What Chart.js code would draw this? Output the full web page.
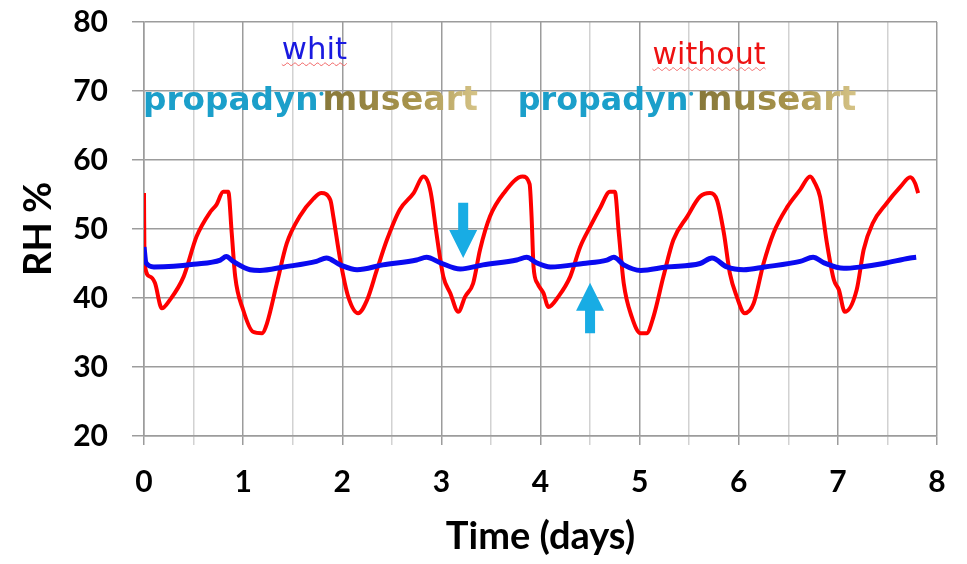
<!DOCTYPE html>
<html>
<head>
<meta charset="utf-8">
<script src="https://cdn.jsdelivr.net/npm/chart.js@4.4.0/dist/chart.umd.min.js"></script>
<style>
  body { margin: 0; background: #fff; }
  #wrap { width: 967px; height: 564px; }
</style>
</head>
<body>
<div id="wrap"><canvas id="graficoRH" width="967" height="564"></canvas></div>
<script>
// RH with / without the Propadyn Museart
const redDays = [0.00, 0.005, 0.06, 0.11, 0.18, 0.26, 0.40, 0.53, 0.67, 0.73, 0.80, 0.85, 0.885, 0.92,
  1.00, 1.10, 1.19, 1.24, 1.34, 1.44, 1.57, 1.71, 1.79, 1.88, 1.91, 1.98,
  2.06, 2.16, 2.25, 2.35, 2.45, 2.58, 2.72, 2.82, 2.87, 2.90, 2.95,
  3.02, 3.09, 3.17, 3.24, 3.32, 3.39, 3.49, 3.63, 3.82, 3.89, 3.91, 3.93, 3.97,
  4.03, 4.08, 4.18, 4.30, 4.40, 4.50, 4.60, 4.70, 4.75, 4.79, 4.84, 4.92,
  5.01, 5.07, 5.14, 5.24, 5.34, 5.48, 5.61, 5.71, 5.78, 5.85, 5.91, 5.98,
  6.06, 6.15, 6.25, 6.35, 6.49, 6.62, 6.72, 6.77, 6.82, 6.89, 6.96,
  7.01, 7.07, 7.19, 7.26, 7.35, 7.49, 7.63, 7.73, 7.78, 7.81];
const redRH = [55.2, 45.1, 43.1, 42.2, 38.5, 39.7, 43.1, 48.9, 52.5, 53.5, 55.4, 55.4, 49.4, 43.1,
  38.3, 35.1, 34.9, 36.3, 42.1, 47.9, 51.8, 54.4, 55.2, 54.2, 51.8, 45.5,
  40.2, 37.8, 39.7, 44.1, 48.4, 52.8, 55.2, 57.6, 56.6, 54.7, 49.4,
  43.1, 40.7, 38.0, 40.2, 42.1, 47.0, 51.8, 55.2, 57.6, 56.5, 51.8, 44.5, 42.1,
  40.7, 38.7, 40.2, 43.1, 47.4, 50.3, 53.0, 55.4, 55.4, 49.4, 42.1, 37.3,
  34.9, 34.9, 37.3, 43.1, 48.4, 51.8, 54.7, 55.2, 54.2, 49.4, 43.6, 40.2,
  37.8, 39.2, 45.0, 49.4, 53.2, 55.7, 57.6, 56.6, 54.7, 47.9, 42.6,
  41.2, 38.0, 41.2, 47.0, 50.8, 53.7, 56.1, 57.5, 56.6, 55.2];

const blueDays = [0.00, 0.02, 0.10, 0.30, 0.50, 0.77, 0.83, 0.90, 1.07, 1.17, 1.41, 1.74, 1.84, 1.98,
  2.15, 2.41, 2.75, 2.85, 2.99, 3.19, 3.42, 3.76, 3.86, 3.96, 4.10, 4.43, 4.67, 4.74, 4.84,
  5.01, 5.27, 5.61, 5.73, 5.88, 6.05, 6.26, 6.62, 6.75, 6.86, 7.06, 7.23, 7.46, 7.73, 7.79];
const blueRH = [47.4, 45.1, 44.5, 44.6, 44.9, 45.5, 46.0, 45.3, 44.1, 44.0, 44.5, 45.3, 45.8, 44.8,
  44.1, 44.8, 45.5, 45.9, 45.1, 44.2, 44.8, 45.5, 45.9, 45.1, 44.5, 45.0, 45.5, 45.9, 44.8,
  44.0, 44.5, 45.0, 45.8, 44.5, 44.1, 44.5, 45.3, 45.9, 45.1, 44.3, 44.5, 45.0, 45.8, 45.9];

const xTicks = [0, 1, 2, 3, 4, 5, 6, 7, 8];
const yTicks = [20, 30, 40, 50, 60, 70, 80];

// notes on the plot: [text, fromDay, toDay, RH at baseline, colour]
const handNotes = [["whit", 1.39, 2.05, 74.6, "#1a1ae0"], ["without", 5.13, 6.27, 73.9, "#ee1111"]];
const logoDays = [[-0.01, 1.76, 1.80, 3.37], [3.77, 5.49, 5.58, 7.19]];
const logoRH = 67.3;
const arrows = [{ day: 3.22, from: 53.8, to: 45.8 }, { day: 4.50, from: 34.9, to: 42.2 }];

const toXY = (xs, ys) => xs.map((d, i) => ({ x: d, y: ys[i] }));

function fitText(ctx, text, x0, x1, yb, family, weight) {
  ctx.font = weight + " 40px " + family;
  const w = ctx.measureText(text).width;
  const size = 40 * (x1 - x0) / w;
  ctx.font = weight + " " + size.toFixed(1) + "px " + family;
  ctx.fillText(text, x0, yb);
}

const notesPlugin = {
  id: "notes",
  afterDatasetsDraw(chart) {
    const { ctx, scales: { x, y } } = chart;
    ctx.save();
    ctx.textBaseline = "alphabetic";
    ctx.textAlign = "left";

    // handwritten labels with the red squiggle below
    handNotes.forEach(([txt, d0, d1, v, col]) => {
      const x0 = x.getPixelForValue(d0), x1 = x.getPixelForValue(d1), yb = y.getPixelForValue(v);
      ctx.fillStyle = col;
      fitText(ctx, txt, x0, x1, yb, "'DejaVu Sans'", "normal");
      ctx.strokeStyle = "#f06060";
      ctx.lineWidth = 1;
      ctx.beginPath();
      for (let px = x0; px <= x1; px += 1) {
        const py = yb + 5 + Math.sin((px - x0) / 1.2) * 1.3;
        px === x0 ? ctx.moveTo(px, py) : ctx.lineTo(px, py);
      }
      ctx.stroke();
    });

    // logos
    logoDays.forEach(([a0, a1, b0, b1]) => {
      const yb = y.getPixelForValue(logoRH);
      ctx.fillStyle = "#1b9fca";
      const pEnd = x.getPixelForValue(a1);
      fitText(ctx, "propadyn", x.getPixelForValue(a0), pEnd, yb, "'DejaVu Sans'", "bold");
      ctx.beginPath();
      ctx.arc(pEnd + 3, yb - 16, 2, 0, Math.PI * 2);
      ctx.fill();
      const gx0 = x.getPixelForValue(b0), gx1 = x.getPixelForValue(b1);
      const g = ctx.createLinearGradient(gx0, 0, gx1, 0);
      g.addColorStop(0, "#87783a");
      g.addColorStop(0.6, "#a8944c");
      g.addColorStop(1, "#d6c488");
      ctx.fillStyle = g;
      fitText(ctx, "museart", gx0, gx1, yb, "'DejaVu Sans'", "bold");
    });

    // arrows
    ctx.fillStyle = "#18ace4";
    arrows.forEach(a => {
      const cx = x.getPixelForValue(a.day);
      const y0 = y.getPixelForValue(a.from), y1 = y.getPixelForValue(a.to);
      const dir = Math.sign(y1 - y0);
      const head = 28, half = 14, sw = 5;
      const yh = y1 - dir * head;
      ctx.beginPath();
      ctx.moveTo(cx - sw, y0);
      ctx.lineTo(cx + sw, y0);
      ctx.lineTo(cx + sw, yh);
      ctx.lineTo(cx + half, yh);
      ctx.lineTo(cx, y1);
      ctx.lineTo(cx - half, yh);
      ctx.lineTo(cx - sw, yh);
      ctx.closePath();
      ctx.fill();
    });
    ctx.restore();
  }
};

const tickFont = { family: "Lato", size: 30, weight: "bold" };
const gridCol = (step) => (c) => (c.tick && Math.abs(c.tick.value % step) < 1e-6 ? "#9c9c9c" : "#d2d2d2");

new Chart(document.getElementById("graficoRH").getContext("2d"), {
  type: "scatter",
  data: {
    datasets: [
      {
        label: "with",
        data: toXY(blueDays, blueRH),
        showLine: true,
        borderColor: "#0a0af0",
        borderWidth: 5,
        pointRadius: 0,
        tension: 0.2,
        cubicInterpolationMode: "monotone",
      },
      {
        label: "without",
        data: toXY(redDays, redRH),
        showLine: true,
        borderColor: "#ff0000",
        borderWidth: 4,
        pointRadius: 0,
        tension: 0.2,
        cubicInterpolationMode: "monotone",
      },
    ],
  },
  options: {
    responsive: false,
    animation: false,
    layout: { padding: { top: 22, right: 30, left: 0, bottom: 0 } },
    plugins: { legend: { display: false }, tooltip: { enabled: false } },
    scales: {
      x: {
        type: "linear",
        min: 0,
        max: 8,
        afterFit: (s) => { s.height = 128; s.paddingLeft = 0; s.paddingRight = 0; },
        ticks: {
          stepSize: 0.5,
          autoSkip: false,
          maxRotation: 0,
          padding: 19,
          color: "#000",
          font: tickFont,
          callback: (v) => (xTicks.includes(v) ? v : ""),
        },
        grid: { color: gridCol(1), lineWidth: 1.5, tickLength: 9 },
        border: { color: "#9c9c9c", width: 1.5 },
        title: {
          display: true,
          text: "Time (days)",
          color: "#000",
          font: { family: "Lato", size: 38, weight: "bold" },
          padding: { top: 0, bottom: 4 },
        },
      },
      y: {
        min: 20,
        max: 80,
        afterFit: (s) => { s.width = 144; s.paddingTop = 0; s.paddingBottom = 0; },
        ticks: {
          stepSize: 5,
          padding: 24,
          color: "#000",
          font: tickFont,
          callback: (v) => (yTicks.includes(v) ? v : ""),
        },
        grid: { color: gridCol(10), lineWidth: 1.5, tickLength: 12 },
        border: { color: "#9c9c9c", width: 1.5 },
        title: {
          display: true,
          text: "RH %",
          color: "#000",
          font: { family: "Lato", size: 38, weight: "bold" },
          padding: { top: 16, bottom: 0 },
        },
      },
    },
  },
  plugins: [notesPlugin],
});
</script>
</body>
</html>
